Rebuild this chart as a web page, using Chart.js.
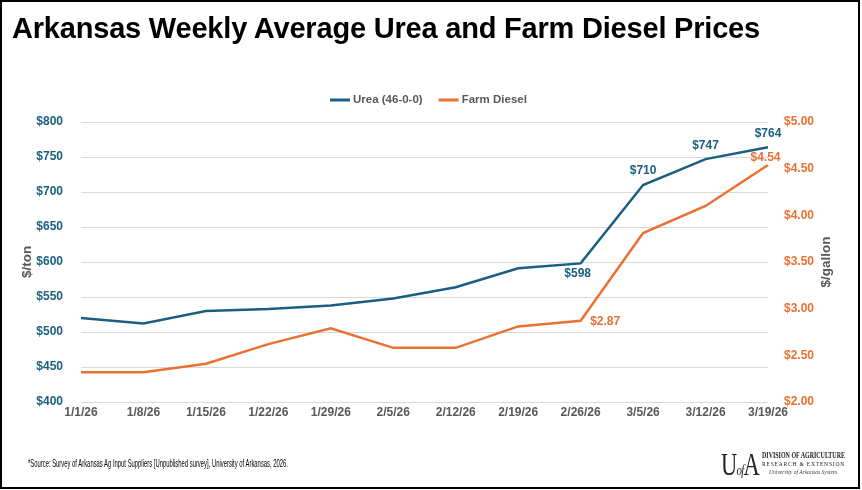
<!DOCTYPE html>
<html>
<head>
<meta charset="utf-8">
<script src="https://cdn.jsdelivr.net/npm/chart.js@4.4.1/dist/chart.umd.min.js"></script>
<style>
  html, body { margin:0; padding:0; background:#fff; }
  #wrap { position:relative; width:862px; height:490px; overflow:hidden; background:#fff; }
  #c { position:absolute; left:0; top:0; }
  #frame { position:absolute; left:0; top:0; width:856px; height:485px; border:2px solid #000; pointer-events:none; }
  #title { position:absolute; left:12px; top:12px; font-family:"Liberation Sans", Arial, sans-serif; font-weight:bold; font-size:29px; color:#000; white-space:nowrap; letter-spacing:-0.2px; }
  .fit { position:absolute; white-space:nowrap; transform-origin:0 0; display:inline-block; }
  #source { left:28px; top:457px; font-family:"Liberation Sans", sans-serif; font-size:11.5px; color:#000; }
  #logoBig { left:721px; top:447px; font-family:"Liberation Serif", "DejaVu Serif", serif; font-size:31px; color:#222; letter-spacing:-1px; }
  #logoBig small { font-size:15px; font-style:italic; }
  #l1 { left:762px; top:451px; font-family:"Liberation Serif", serif; font-weight:bold; font-size:8px; color:#222; }
  #l2 { left:762px; top:460px; font-family:"Liberation Serif", serif; font-size:7px; letter-spacing:1px; color:#222; }
  #l3 { left:769px; top:469px; font-family:"Liberation Serif", serif; font-style:italic; font-size:6px; color:#444; }
</style>
</head>
<body>
<div id="wrap">
  <canvas id="c" width="862" height="490"></canvas>
  <div id="title">Arkansas Weekly Average Urea and Farm Diesel Prices</div>
  <div id="source" class="fit" data-w="260">*Source: Survey of Arkansas Ag Input Suppliers [Unpublished survey], University of Arkansas, 2026.</div>
  <div id="logoBig" class="fit" data-w="38">U<small>of</small>A</div>
  <div id="l1" class="fit" data-w="83">DIVISION OF AGRICULTURE</div>
  <div id="l2" class="fit" data-w="83">RESEARCH &amp; EXTENSION</div>
  <div id="l3" class="fit" data-w="68">University of Arkansas System</div>
  <div id="frame"></div>
</div>
<script>
// ---- data ----
const categories = ["1/1/26","1/8/26","1/15/26","1/22/26","1/29/26","2/5/26","2/12/26","2/19/26","2/26/26","3/5/26","3/12/26","3/19/26"];
const ureaPrices = [520, 512, 530, 533, 538, 548, 564, 591, 598, 710, 747, 764];
const dieselPrices = [2.32, 2.32, 2.41, 2.62, 2.79, 2.58, 2.58, 2.81, 2.87, 3.81, 4.10, 4.54];
const seriesNames = ["Urea (46-0-0)", "Farm Diesel"];
const leftTicks = [400, 450, 500, 550, 600, 650, 700, 750, 800];
const rightTicks = [2.0, 2.5, 3.0, 3.5, 4.0, 4.5, 5.0];
const ureaLabelIdx = [8, 9, 10, 11];
const dieselLabelIdx = [8, 11];

// fit text widths
document.querySelectorAll('.fit').forEach(el => {
  const w = el.getBoundingClientRect().width;
  const target = parseFloat(el.dataset.w);
  el.style.transform = 'scaleX(' + (target / w) + ')';
});

// ---- styles ----
const BLUE = "#1A5F80";
const ORANGE = "#E97132";
const GRAY = "#595959";
const FONT = "'Liberation Sans', Arial, sans-serif";
const CHART = { left: 81, right: 768, top: 122, bottom: 402, W: 862, H: 490 };
const labelPlacement = {
  0: { 8: {dx:-3, dy:10.5, align:'center'}, 9: {dx:0, dy:-14, align:'center'}, 10: {dx:0, dy:-13.5, align:'center'}, 11: {dx:0, dy:-13.5, align:'center'} },
  1: { 8: {dx:9.5, dy:0.5, align:'left'}, 11: {dx:-2.5, dy:-7.5, align:'center'} }
};

const labelsPlugin = {
  id: 'pointLabels',
  afterDatasetsDraw(chart) {
    const ctx = chart.ctx;
    ctx.save();
    ctx.font = "bold 12px " + FONT;
    ctx.textBaseline = 'middle';
    [ureaLabelIdx, dieselLabelIdx].forEach((idxs, di) => {
      const meta = chart.getDatasetMeta(di);
      const ds = chart.data.datasets[di];
      idxs.forEach(i => {
        const el = meta.data[i];
        const p = labelPlacement[di][i];
        const v = ds.data[i];
        const txt = di === 0 ? "$" + v : "$" + v.toFixed(2);
        ctx.fillStyle = di === 0 ? BLUE : ORANGE;
        ctx.textAlign = p.align;
        ctx.fillText(txt, el.x + p.dx, el.y + p.dy);
      });
    });
    ctx.restore();
  }
};

const legendAndTitles = {
  id: 'legendAndTitles',
  afterDraw(chart) {
    const ctx = chart.ctx;
    const ca = chart.chartArea;
    ctx.save();
    ctx.font = "bold 11.5px " + FONT;
    ctx.textBaseline = 'middle';
    ctx.textAlign = 'left';
    const lineLen = 20, gap = 3, itemGap = 16, cy = 100;
    const widths = chart.data.datasets.map(d => lineLen + gap + ctx.measureText(d.label).width);
    let x = 330;
    chart.data.datasets.forEach((d, i) => {
      ctx.fillStyle = d.borderColor;
      ctx.fillRect(x, cy - 1.5, lineLen, 3);
      ctx.fillStyle = GRAY;
      ctx.fillText(d.label, x + lineLen + gap, cy);
      x += widths[i] + itemGap;
    });
    ctx.font = "bold 13.5px " + FONT;
    ctx.fillStyle = GRAY;
    ctx.textAlign = 'center';
    const my = (ca.top + ca.bottom)/2;
    ctx.save();
    ctx.translate(27, my);
    ctx.rotate(-Math.PI/2);
    ctx.fillText("$/ton", 0, 0);
    ctx.restore();
    ctx.save();
    ctx.translate(826, my);
    ctx.rotate(-Math.PI/2);
    ctx.fillText("$/gallon", 0, 0);
    ctx.restore();
    ctx.restore();
  }
};

new Chart(document.getElementById('c'), {
  type: 'line',
  data: {
    labels: categories,
    datasets: [
      { label: seriesNames[0], data: ureaPrices, yAxisID: 'y', borderColor: BLUE, backgroundColor: BLUE, borderWidth: 2.5, pointRadius: 0, tension: 0 },
      { label: seriesNames[1], data: dieselPrices, yAxisID: 'y1', borderColor: ORANGE, backgroundColor: ORANGE, borderWidth: 2.5, pointRadius: 0, tension: 0 }
    ]
  },
  options: {
    responsive: false,
    animation: false,
    devicePixelRatio: 1,
    layout: { padding: { top: CHART.top, left: 0, right: 0, bottom: 0 } },
    plugins: { legend: { display: false }, tooltip: { enabled: false } },
    scales: {
      x: {
        grid: { display: false, drawTicks: false },
        border: { display: false },
        ticks: { color: GRAY, font: { family: FONT, size: 12, weight: 'bold' }, padding: 3, maxRotation: 0, autoSkip: false },
        afterFit(s) { s.height = CHART.H - CHART.bottom; }
      },
      y: {
        position: 'left',
        min: 400, max: 800,
        afterBuildTicks(s) { s.ticks = leftTicks.map(v => ({ value: v })); },
        grid: { color: '#D9D9D9', lineWidth: 1, drawTicks: false },
        border: { display: false },
        ticks: { color: BLUE, padding: 18, font: { family: FONT, size: 12, weight: 'bold' }, callback: v => "$" + v },
        afterFit(s) { s.width = CHART.left; }
      },
      y1: {
        position: 'right',
        min: 2, max: 5,
        afterBuildTicks(s) { s.ticks = rightTicks.map(v => ({ value: v })); },
        grid: { display: false, drawTicks: false },
        border: { display: false },
        ticks: { color: ORANGE, padding: 16, font: { family: FONT, size: 12, weight: 'bold' }, callback: v => "$" + Number(v).toFixed(2) },
        afterFit(s) { s.width = CHART.W - CHART.right; }
      }
    }
  },
  plugins: [labelsPlugin, legendAndTitles]
});
</script>
</body>
</html>
